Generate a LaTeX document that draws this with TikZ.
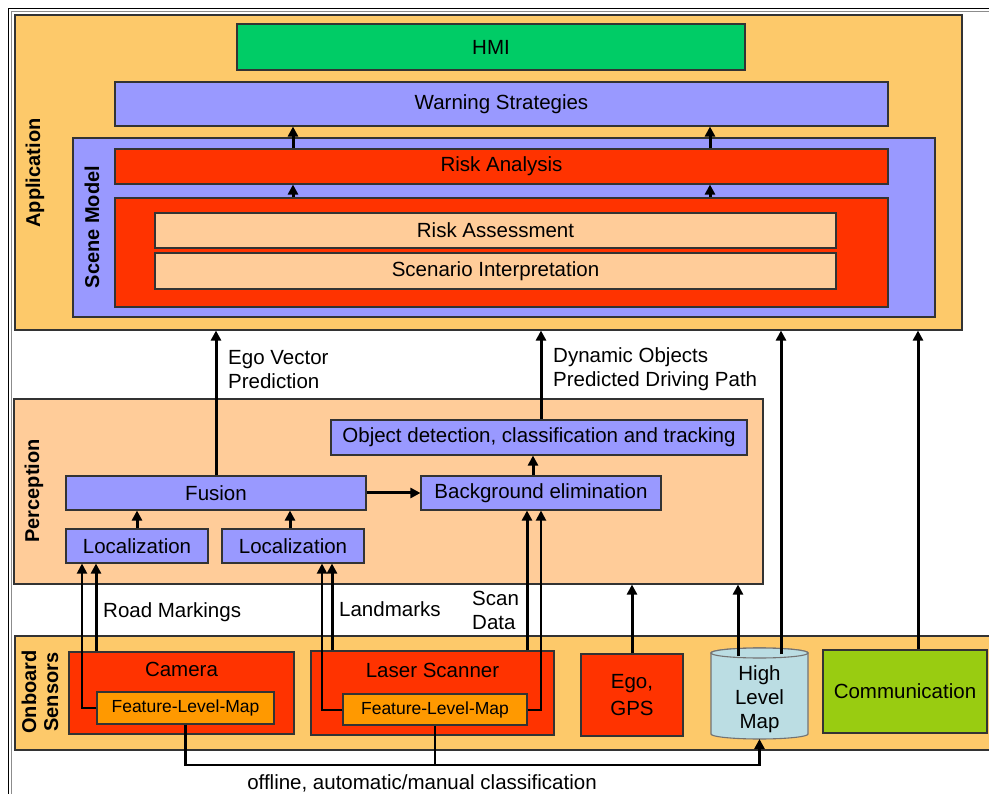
\documentclass[tikz,border=0pt]{standalone}
\usepackage{fontspec}
\setmainfont{Liberation Sans}
\usetikzlibrary{arrows.meta}
\definecolor{apporange}{HTML}{FDC96A}
\definecolor{peach}{HTML}{FFCC99}
\definecolor{lav}{HTML}{9999FF}
\definecolor{redbox}{HTML}{FF3300}
\definecolor{hmigreen}{HTML}{00CC66}
\definecolor{flmorange}{HTML}{FF9900}
\definecolor{hlmblue}{HTML}{BBDDE3}
\definecolor{commgreen}{HTML}{99CC11}
\definecolor{edge}{HTML}{333333}
\begin{document}
\begin{tikzpicture}[x=1pt,y=-1pt,
  box/.style={draw=edge, line width=1.1pt, inner sep=0pt, font=\fontsize{20.5}{24}\selectfont, align=center},
  txt/.style={inner sep=0pt, font=\fontsize{20.5}{24}\selectfont, align=left},
  lbl/.style={inner sep=0pt, font=\fontsize{20}{22}\selectfont\bfseries, rotate=90, align=center},
  thk/.style={line width=3pt, -{Triangle[length=10pt,width=10pt]}},
  thn/.style={line width=2pt, -{Triangle[length=10pt,width=10pt]}},
  plain/.style={line width=2.6pt}
]
\useasboundingbox (0,0) rectangle (989,794);
\clip (0,0) rectangle (989,794);
\fill[white] (0,0) rectangle (989,794);
% outer frame
\draw[line width=1.6pt, black] (8.5,8.5) rectangle (1100,900);
\draw[line width=0.8pt, black!45] (11.5,11.5) rectangle (1100,900);

% ---------------- Application ----------------
\node[box, fill=apporange, minimum width=947pt, minimum height=315pt] (app) at (488.5,172.5) {};
\node[box, fill=hmigreen, minimum width=508pt, minimum height=46pt] (hmi) at (491,47) {HMI};
\node[box, fill=lav, minimum width=773pt, minimum height=44pt] (warn) at (501.5,104) {Warning Strategies};
\node[box, fill=lav, minimum width=862pt, minimum height=179pt] (scene) at (504,227.5) {};
\node[box, fill=redbox, minimum width=773pt, minimum height=35pt] (ra) at (501.5,166.5) {Risk Analysis};
\node[box, fill=redbox, minimum width=773pt, minimum height=109pt] (bigred) at (501.5,252.5) {};
\node[box, fill=peach, minimum width=681pt, minimum height=35pt] (rass) at (495.5,230.5) {Risk Assessment};
\node[box, fill=peach, minimum width=681pt, minimum height=36pt] (scen) at (495.5,271) {Scenario Interpretation};
\node[lbl] (applbl) at (35,173) {Application};
\node[lbl] (scenelbl) at (92,227) {Scene Model};

\coordinate (xa) at (293,0);
\coordinate (xb) at (710,0);
\draw[thk] (ra.north -| xa) -- (warn.south -| xa);
\draw[thk] (ra.north -| xb) -- (warn.south -| xb);
\draw[thk] (bigred.north -| xa) -- (ra.south -| xa);
\draw[thk] (bigred.north -| xb) -- (ra.south -| xb);

% ---------------- Perception ----------------
\node[box, fill=peach, minimum width=749pt, minimum height=185pt] (percep) at (388.5,491.5) {};
\node[box, fill=lav, minimum width=416pt, minimum height=35pt] (objdet) at (539,437.5) {Object detection, classification and tracking};
\node[box, fill=lav, minimum width=240pt, minimum height=34pt] (bgelim) at (541,493) {Background elimination};
\node[box, fill=lav, minimum width=300pt, minimum height=34pt] (fusion) at (216,493) {Fusion};
\node[box, fill=lav, minimum width=142pt, minimum height=34pt] (loc1) at (137,546) {Localization};
\node[box, fill=lav, minimum width=142pt, minimum height=34pt] (loc2) at (293,546) {Localization};
\node[lbl] (perclbl) at (34,491) {Perception};

\coordinate (xdyn) at (541,0);
\coordinate (xbg) at (533,0);
\coordinate (xl2) at (290,0);
\draw[thk] (fusion.north) -- (app.south -| fusion.north);
\draw[thk] (objdet.north -| xdyn) -- (app.south -| xdyn);
\draw[thk] (bgelim.north -| xbg) -- (objdet.south -| xbg);
\draw[thk] (fusion.east) -- (bgelim.west);
\draw[thk] (loc1.north) -- (fusion.south -| loc1.north);
\draw[thk] (loc2.north -| xl2) -- (fusion.south -| xl2);

\node[txt, anchor=west] (egolbl) at (228,370) {Ego Vector\\Prediction};
\node[txt, anchor=west] (dynlbl) at (553,369) {Dynamic Objects\\Predicted Driving Path};

% ---------------- Onboard Sensors ----------------
\node[box, fill=apporange, minimum width=985pt, minimum height=114pt] (sensors) at (507.5,693) {};
\node[lbl] (senslbl) at (40,692) {Onboard\\Sensors};
\node[box, fill=redbox, minimum width=225pt, minimum height=82pt] (camera) at (181.5,693) {};
\node[txt] (camtxt) at ([yshift=-18pt]camera.north) {Camera};
\node[box, fill=flmorange, minimum width=177pt, minimum height=32pt, font=\fontsize{17.5}{20}\selectfont] (flm1) at (185.5,708) {Feature-Level-Map};
\node[box, fill=redbox, minimum width=243pt, minimum height=84pt] (laser) at (432.5,693) {};
\node[txt] (lastxt) at ([yshift=-20pt]laser.north) {Laser Scanner};
\node[box, fill=flmorange, minimum width=184pt, minimum height=31pt, font=\fontsize{17.5}{20}\selectfont] (flm2) at (435,709.5) {Feature-Level-Map};
\node[box, fill=redbox, minimum width=102pt, minimum height=82pt, font=\fontsize{20.5}{27}\selectfont] (ego) at (632,695) {Ego,\\GPS};
% cylinder
\path[fill=hlmblue, draw=black!55, line width=1.1pt] (711,653) -- (711,734)
  arc[start angle=180, end angle=0, x radius=48.5, y radius=5] -- (808,653)
  arc[start angle=0, end angle=-180, x radius=48.5, y radius=5] -- cycle;
\draw[fill=hlmblue, draw=black!55, line width=1.1pt] (759.5,653) ellipse [x radius=48.5, y radius=5];
\node[inner sep=0pt, minimum width=97pt, minimum height=91pt, align=center, font=\fontsize{20.5}{24}\selectfont] (hlm) at (759.5,699) {High\\Level\\Map};
\coordinate (hlmtop) at (759.5,653);
\coordinate (hlmbot) at (759.5,739);
\node[box, fill=commgreen, minimum width=164pt, minimum height=83pt] (comm) at (905,691.5) {Communication};

% sensor connectors
\coordinate (xc) at (82,0);
\coordinate (xd) at (96,0);
\coordinate (xe) at (322,0);
\coordinate (xf) at (332,0);
\coordinate (xg) at (527,0);
\coordinate (xh) at (541,0);
\coordinate (xi) at (738,0);
\coordinate (xj) at (781,0);
\coordinate (xk) at (918,0);
\draw[thn] (flm1.west) -| (loc1.south -| xc);
\draw[thk] (camera.north -| xd) -- (loc1.south -| xd);
\draw[thn] (flm2.west) -| (loc2.south -| xe);
\draw[thk] (laser.north -| xf) -- (loc2.south -| xf);
\draw[thk] (laser.north -| xg) -- (bgelim.south -| xg);
\draw[thn] (flm2.east) -| (bgelim.south -| xh);
\draw[thk] (ego.north) -- (percep.south -| ego.north);
\draw[thk] ([yshift=-3pt]hlmtop -| xi) -- (percep.south -| xi);
\draw[thk] ([yshift=-1pt]hlmtop -| xj) -- (app.south -| xj);
\draw[thk] (comm.north -| xk) -- (app.south -| xk);

\coordinate (off) at (759.5,765);
\draw[plain] (flm2.south) -- (flm2.south |- off);
\draw[line width=2.6pt, -{Triangle[length=10pt,width=10pt]}] (flm1.south) |- (off) -- (hlmbot);

\node[txt, anchor=west] (rmlbl) at (103,612) {Road Markings};
\node[txt, anchor=west] (lmlbl) at (339,609) {Landmarks};
\node[txt, anchor=west] (sdlbl) at (472,610) {Scan\\Data};
\node[txt] (offlbl) at (422,783) {offline, automatic/manual classification};
\end{tikzpicture}
\end{document}
